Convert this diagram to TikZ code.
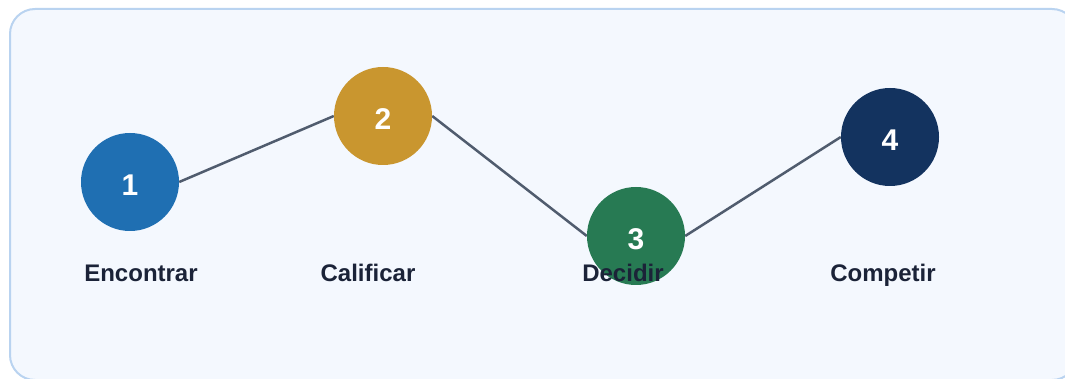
\documentclass[tikz,border=0pt]{standalone}
\usepackage{fontspec}
\setmainfont{Liberation Sans}
\usepackage{tikz}

\definecolor{panelfill}{HTML}{F4F8FE}
\definecolor{panelline}{HTML}{B9D3F0}
\definecolor{linkgray}{HTML}{505C6E}
\definecolor{labelnavy}{HTML}{1B2338}
\definecolor{stepa}{HTML}{1F6FB2}
\definecolor{stepb}{HTML}{C9962F}
\definecolor{stepc}{HTML}{277A53}
\definecolor{stepd}{HTML}{13335F}
\pgfdeclarelayer{links}
\pgfsetlayers{links,main}

\begin{document}
\begin{tikzpicture}[x=1pt,y=-1pt,
        stepdot/.style={circle,minimum size=98pt,inner sep=0pt,text=white,
            font=\fontsize{30}{30}\selectfont\bfseries,text height=27.5pt,text depth=0pt},
        steplabel/.style={anchor=base,text=labelnavy,font=\fontsize{24}{24}\selectfont\bfseries},
        link/.style={draw=linkgray,line width=2.5pt}
    ]
    \useasboundingbox (0,0) rectangle (1065,379);
    \begin{pgfonlayer}{links}
        \draw[panelline,fill=panelfill,line width=2pt,rounded corners=25pt] (10,9) rectangle (1077,380);
    \end{pgfonlayer}
    %the four steps
    \node[stepdot,fill=stepa] (s1) at (130,182) {1};
    \node[stepdot,fill=stepb] (s2) at (383,116) {2};
    \node[stepdot,fill=stepc] (s3) at (636,236) {3};
    \node[stepdot,fill=stepd] (s4) at (890,137) {4};
    \begin{pgfonlayer}{links}
        \draw[link] (s1.east) -- (s2.west);
        \draw[link] (s2.east) -- (s3.west);
        \draw[link] (s3.east) -- (s4.west);
    \end{pgfonlayer}
    %labels
    \node[steplabel] (l1) at (141,281) {Encontrar};
    \node[steplabel] (l2) at (368,281) {Calificar};
    \node[steplabel] (l3) at (623,281) {Decidir};
    \node[steplabel] (l4) at (883,281) {Competir};
\end{tikzpicture}
\end{document}
